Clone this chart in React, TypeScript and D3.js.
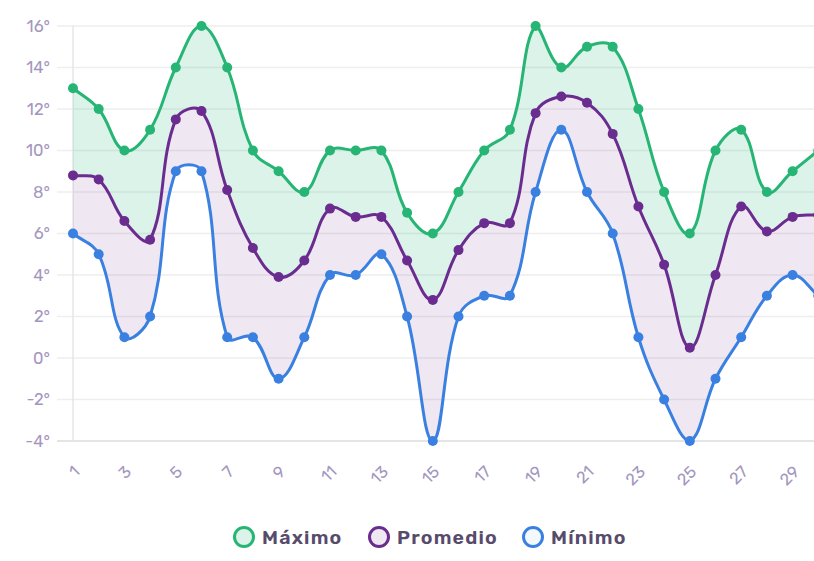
import React from "react";
import * as d3 from "d3";

const days = d3.range(1, 31);
const maximo = [13, 12, 10, 11, 14, 16, 14, 10, 9, 8, 10, 10, 10, 7, 6, 8, 10, 11, 16, 14, 15, 15, 12, 8, 6, 10, 11, 8, 9, 10];
const promedio = [8.8, 8.6, 6.6, 5.7, 11.5, 11.9, 8.1, 5.3, 3.9, 4.7, 7.2, 6.8, 6.8, 4.7, 2.8, 5.2, 6.5, 6.5, 11.8, 12.6, 12.3, 10.8, 7.3, 4.5, 0.5, 4.0, 7.3, 6.1, 6.8, 6.9];
const minimo = [6, 5, 1, 2, 9, 9, 1, 1, -1, 1, 4, 4, 5, 2, -4, 2, 3, 3, 8, 11, 8, 6, 1, -2, -4, -1, 1, 3, 4, 3];
const yTicks = [-4, -2, 0, 2, 4, 6, 8, 10, 12, 14, 16];
const xTicks = [1, 3, 5, 7, 9, 11, 13, 15, 17, 19, 21, 23, 25, 27, 29];

const series = [
  { name: "Máximo", values: maximo, color: "#26b574", fill: "rgba(38,181,116,0.16)" },
  { name: "Promedio", values: promedio, color: "#6b2c8f", fill: "rgba(107,44,143,0.11)" },
  { name: "Mínimo", values: minimo, color: "#3a80e0", fill: "rgba(58,128,224,0.06)" },
];

const W = 814;
const H = 561;
const left = 73;
const top = 26;
const bottom = 441;

const x = d3.scaleLinear().domain([1, 30]).range([left, left + 29 * 25.7]);
const y = d3.scaleLinear().domain([-4, 16]).range([bottom, top]);

type P = { x: number; y: number };
type Seg = { p0: P; c1: P; c2: P; p1: P };

function splineSegs(pts: P[], t = 0.4): Seg[] {
  const cps = pts.map((cur, i) => {
    const prev = i > 0 ? pts[i - 1] : cur;
    const next = i < pts.length - 1 ? pts[i + 1] : cur;
    const d01 = Math.hypot(cur.x - prev.x, cur.y - prev.y);
    const d12 = Math.hypot(next.x - cur.x, next.y - cur.y);
    let s01 = d01 / (d01 + d12);
    let s12 = d12 / (d01 + d12);
    if (isNaN(s01)) s01 = 0;
    if (isNaN(s12)) s12 = 0;
    const fa = t * s01;
    const fb = t * s12;
    const clampY = (v: number) => Math.max(top, Math.min(bottom, v));
    return {
      prev: { x: cur.x - fa * (next.x - prev.x), y: clampY(cur.y - fa * (next.y - prev.y)) },
      next: { x: cur.x + fb * (next.x - prev.x), y: clampY(cur.y + fb * (next.y - prev.y)) },
    };
  });
  const segs: Seg[] = [];
  for (let i = 0; i < pts.length - 1; i++) {
    segs.push({ p0: pts[i], c1: cps[i].next, c2: cps[i + 1].prev, p1: pts[i + 1] });
  }
  return segs;
}

function toPts(vals: number[]): P[] {
  return vals.map((v, i) => ({ x: x(days[i]), y: y(v) }));
}

function linePath(vals: number[]): string {
  const segs = splineSegs(toPts(vals));
  const p = d3.path();
  p.moveTo(segs[0].p0.x, segs[0].p0.y);
  segs.forEach((s) => p.bezierCurveTo(s.c1.x, s.c1.y, s.c2.x, s.c2.y, s.p1.x, s.p1.y));
  return p.toString();
}

function bandPath(upper: number[], lower: number[]): string {
  const su = splineSegs(toPts(upper));
  const sl = splineSegs(toPts(lower));
  const p = d3.path();
  p.moveTo(su[0].p0.x, su[0].p0.y);
  su.forEach((s) => p.bezierCurveTo(s.c1.x, s.c1.y, s.c2.x, s.c2.y, s.p1.x, s.p1.y));
  const last = sl[sl.length - 1];
  p.lineTo(last.p1.x, last.p1.y);
  for (let i = sl.length - 1; i >= 0; i--) {
    const s = sl[i];
    p.bezierCurveTo(s.c2.x, s.c2.y, s.c1.x, s.c1.y, s.p0.x, s.p0.y);
  }
  p.closePath();
  return p.toString();
}

const font = "Rubik, 'Noto Sans', sans-serif";
const tickColor = "#a497bf";

export default function App() {
  const legendItems = [
    { s: series[0], cx: 244, tx: 262 },
    { s: series[1], cx: 379, tx: 397 },
    { s: series[2], cx: 533, tx: 551 },
  ];
  return (
    <svg
      width={W}
      height={H}
      style={{ position: "absolute", left: 0, top: 0, background: "#fff" }}
      fontFamily={font}
    >
      <defs>
        <clipPath id="plot">
          <rect x={0} y={0} width={W} height={H} />
        </clipPath>
      </defs>
      {yTicks.map((t) => (
        <line key={t} x1={57} x2={W} y1={y(t)} y2={y(t)} stroke={t === -4 ? "#dcdcdc" : "#eeeeee"} strokeWidth={1.3} />
      ))}
      <line x1={left} x2={left} y1={top} y2={bottom} stroke="#e2e0e6" strokeWidth={1.3} />
      {yTicks.map((t) => (
        <text key={t} x={50} y={y(t)} dy="0.35em" textAnchor="end" fontSize={16.5} fill={tickColor}>
          {`${t}°`}
        </text>
      ))}
      {xTicks.map((t) => (
        <text
          key={t}
          transform={`translate(${x(t) - 1},${464}) rotate(-45)`}
          textAnchor="end"
          dy="0.75em"
          fontSize={16.5}
          fill={tickColor}
        >
          {t}
        </text>
      ))}
      <g clipPath="url(#plot)">
        <path d={bandPath(maximo, promedio)} fill={series[0].fill} />
        <path d={bandPath(promedio, minimo)} fill={series[1].fill} />
        {series.map((s) => (
          <path key={s.name} d={linePath(s.values)} fill="none" stroke={s.color} strokeWidth={3} />
        ))}
        {series.map((s) =>
          s.values.map((v, i) => (
            <circle key={s.name + i} cx={x(days[i])} cy={y(v)} r={5} fill={s.color} />
          ))
        )}
      </g>
      {legendItems.map(({ s, cx, tx }) => (
        <g key={s.name}>
          <circle cx={cx} cy={537} r={9.5} fill={s.fill} stroke={s.color} strokeWidth={3} />
          <text x={tx} y={537} dy="0.36em" fontSize={19.5} fontWeight={600} letterSpacing={1.2} fill="#574b6c">
            {s.name}
          </text>
        </g>
      ))}
    </svg>
  );
}
